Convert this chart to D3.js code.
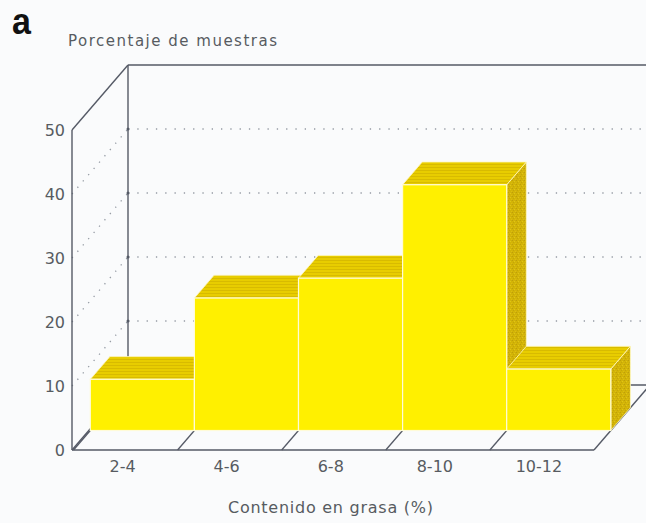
<!DOCTYPE html>
<html>
<head>
<meta charset="utf-8">
<script src="https://cdn.jsdelivr.net/npm/d3@7"></script>
<style>
  html, body { margin: 0; padding: 0; background: #fafbfc; }
  svg { display: block; }
  text { font-family: "DejaVu Sans", sans-serif; fill: #575b61; }
</style>
</head>
<body>
<svg id="chart" width="646" height="523"></svg>
<script>
// Fat content histogram (percentage of samples per class)
const categories = ["2-4", "4-6", "6-8", "8-10", "10-12"];
const values = [8, 20.7, 23.8, 38.4, 9.6];
const yTicks = [0, 10, 20, 30, 40, 50];
const gridTicks = [10, 20, 30, 40];
const yTitle = "Porcentaje de muestras";
const xTitle = "Contenido en grasa (%)";
const panelLabel = "a";

const svg = d3.select("#chart");

// oblique projection: depth z in [0,1] shifts right and up
const DX = 56, DY = 65;
const wallX = 72;
const x = d3.scaleBand().domain(categories).range([73.5, 594]).paddingInner(0).paddingOuter(0);
const y = d3.scaleLinear().domain([0, 50]).range([450, 130]);
const proj = (px, v, z) => [px + z * DX, y(v) - z * DY];
const xEnd = x.range()[1];
const barZ0 = 0.3, barZ1 = 0.65;

const lineColor = "#555a66";
const dotColor = "#959ba4";

// fills
const defs = svg.append("defs");
const topPat = defs.append("pattern").attr("id", "topFill")
  .attr("width", 6).attr("height", 3).attr("patternUnits", "userSpaceOnUse");
topPat.append("rect").attr("width", 6).attr("height", 3).attr("fill", "#e8cd00");
topPat.append("rect").attr("y", 2).attr("width", 6).attr("height", 1).attr("fill", "#d8bb00");

const sidePat = defs.append("pattern").attr("id", "sideFill")
  .attr("width", 4).attr("height", 4).attr("patternUnits", "userSpaceOnUse");
sidePat.append("rect").attr("width", 4).attr("height", 4).attr("fill", "#d3b406");
[[0,0,"#bf9f08"],[2,1,"#e0c418"],[1,2,"#c4a50a"],[3,3,"#dcbd10"],[3,0,"#cbad0c"]].forEach(([a,b,c]) =>
  sidePat.append("rect").attr("x", a).attr("y", b).attr("width", 1).attr("height", 1).attr("fill", c));

const line = d3.line();
const g = svg.append("g");

// back wall gridlines and left wall diagonals (dotted)
gridTicks.forEach(v => {
  g.append("path").attr("d", line([proj(wallX, v, 1), proj(xEnd, v, 1)]))
    .attr("stroke", dotColor).attr("stroke-width", 1.3).attr("stroke-dasharray", "1.3 8").attr("fill", "none");
  g.append("path").attr("d", line([proj(wallX, v, 0), proj(wallX, v, 1)]))
    .attr("stroke", dotColor).attr("stroke-width", 1.3).attr("stroke-dasharray", "1.3 7").attr("fill", "none");
  const [cx, cy] = proj(wallX, v, 1);
  g.append("circle").attr("cx", cx).attr("cy", cy).attr("r", 1.5).attr("fill", lineColor);
});

// frame: back axis, top edge, left top diagonal, front axis, floor
const frame = [
  [proj(wallX, 0, 1), proj(wallX, 50, 1)],
  [proj(wallX, 50, 1), proj(xEnd, 50, 1)],
  [proj(wallX, 50, 0), proj(wallX, 50, 1)],
  [proj(wallX, 0, 0), proj(wallX, 50, 0)],
  [proj(wallX, 0, 0), proj(xEnd, 0, 0)],
  [proj(xEnd, 0, 0), proj(xEnd, 0, 1)],
  [proj(wallX, 0, 1), proj(xEnd, 0, 1)],
  [proj(wallX, 0, 0), proj(wallX, 0, 1)]
];
frame.forEach(seg => g.append("path").attr("d", line(seg))
  .attr("stroke", lineColor).attr("stroke-width", 1.4).attr("fill", "none"));

// floor slashes at class boundaries
categories.forEach(c => {
  const b = x(c);
  g.append("path").attr("d", line([proj(b, 0, 0), proj(b, 0, barZ0)]))
    .attr("stroke", lineColor).attr("stroke-width", 1.3).attr("fill", "none");
});

// bars, painted left to right
const edge = "#fff8c0";
categories.forEach((c, i) => {
  const v = values[i];
  const x0 = x(c), x1 = x(c) + x.bandwidth();
  const bg = g.append("g");
  bg.append("path").attr("d", line([proj(x1, v, barZ0), proj(x1, v, barZ1), proj(x1, 0, barZ1), proj(x1, 0, barZ0)]) + "Z")
    .attr("fill", "url(#sideFill)").attr("stroke", edge).attr("stroke-width", 0.8);
  bg.append("path").attr("d", line([proj(x0, v, barZ0), proj(x1, v, barZ0), proj(x1, v, barZ1), proj(x0, v, barZ1)]) + "Z")
    .attr("fill", "url(#topFill)").attr("stroke", edge).attr("stroke-width", 0.8);
  const [fx0, fy0] = proj(x0, v, barZ0);
  const [fx1, fy1] = proj(x1, 0, barZ0);
  bg.append("rect").attr("x", fx0).attr("y", fy0).attr("width", fx1 - fx0).attr("height", fy1 - fy0)
    .attr("fill", "#fff000").attr("stroke", "#fffbd8").attr("stroke-width", 1.2);
});

// y tick labels
yTicks.forEach(v => {
  svg.append("text").attr("x", 65).attr("y", y(v)).attr("dy", "0.36em")
    .attr("text-anchor", "end").attr("font-size", 16).text(v);
});

// category labels
categories.forEach(c => {
  svg.append("text").attr("x", x(c) + x.bandwidth() / 2 - 3).attr("y", 472)
    .attr("text-anchor", "middle").attr("font-size", 16).text(c);
});

// titles
svg.append("text").attr("x", 68).attr("y", 46).attr("font-size", 15)
  .attr("textLength", 209).attr("lengthAdjust", "spacing").text(yTitle);
svg.append("text").attr("x", 228).attr("y", 513).attr("font-size", 16)
  .attr("textLength", 205).attr("lengthAdjust", "spacing").text(xTitle);

svg.append("text").attr("transform", "translate(12,34) scale(0.92,1)")
  .style("font-family", "'Liberation Sans Narrow', 'Liberation Sans', sans-serif")
  .style("font-weight", "bold").style("fill", "#111")
  .attr("font-size", 37).text(panelLabel);
</script>
</body>
</html>
